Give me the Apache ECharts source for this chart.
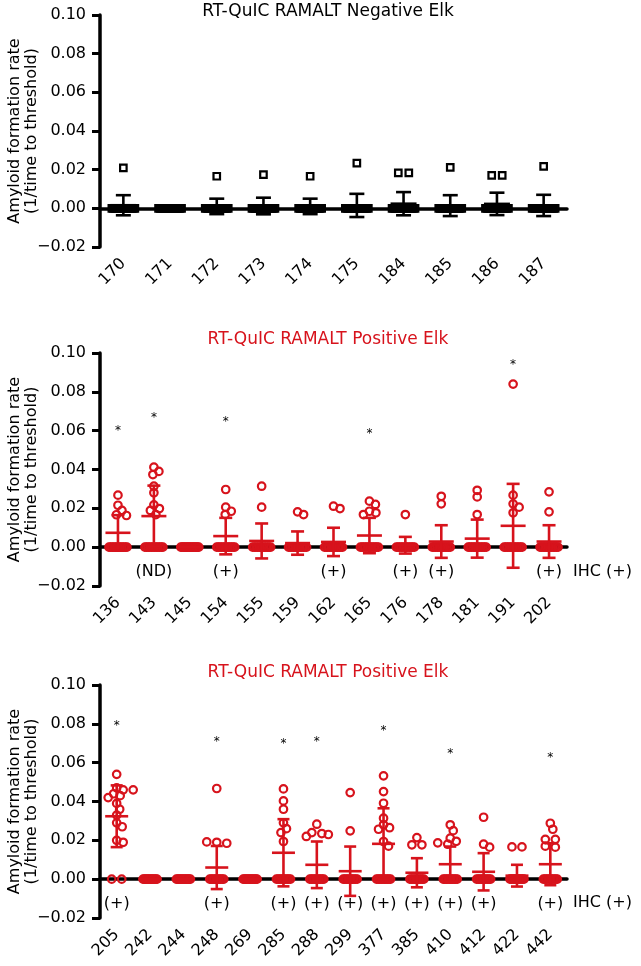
<!DOCTYPE html>
<html><head><meta charset="utf-8">
<script src="https://cdn.jsdelivr.net/npm/echarts@6/dist/echarts.min.js"></script>
<style>html,body{margin:0;padding:0;background:#fff}#c{width:641px;height:966px}</style>
</head><body><div id="c"></div>
<script>
// ---------- Panel A: RT-QuIC RAMALT Negative Elk ----------
const titleA = 'RT-QuIC RAMALT Negative Elk';
const catsA = ['170','171','172','173','174','175','184','185','186','187'];
const pointsA = [[0.0209],[],[0.0166],[0.0174],[0.0166],[0.0234],[0.0183,0.0183],[0.0212],[0.017,0.017],[0.0217]];
const zerosA = [16,16,16,16,16,16,16,16,16,16];
const meanA = [0.0016,0,0.001,0.0012,0.001,0.0015,0.0024,0.0014,0.0023,0.0015];
const sdA   = [0.0052,0,0.004,0.0043,0.004,0.006,0.006,0.0054,0.0058,0.0055];
const starsA = [null,null,null,null,null,null,null,null,null,null];
const ihcA = ['','','','','','','','','',''];

// ---------- Panel B: RT-QuIC RAMALT Positive Elk ----------
const titleB = 'RT-QuIC RAMALT Positive Elk';
const catsB = ['136','143','145','154','155','159','162','165','176','178','181','191','202'];
const pointsB = [
  [0.0268,0.0216,0.0189,0.0167,0.0163],
  [0.0412,0.039,0.0374,0.0314,0.028,0.0218,0.0199,0.0189,0.0168],
  [],
  [0.0297,0.0206,0.0185,0.0168],
  [0.0314,0.0206],
  [0.0182,0.0168],
  [0.0211,0.0199],
  [0.0237,0.022,0.0185,0.0177,0.0168],
  [0.0168],
  [0.0262,0.0223],
  [0.0293,0.0259,0.0168],
  [0.084,0.0268,0.0223,0.0206,0.0177],
  [0.0285,0.0182]
];
const zerosB = [12,12,16,12,12,12,12,12,12,12,12,12,12];
const meanB = [0.0074,0.016,0,0.0057,0.0032,0.0021,0.0027,0.006,0.001,0.0029,0.0044,0.011,0.0029];
const sdB   = [0.0091,0.0157,0,0.0094,0.009,0.006,0.0073,0.0091,0.0043,0.0084,0.0098,0.0216,0.0084];
const starsB = [0.061,0.068,null,0.066,null,null,null,0.0597,null,null,null,0.0954,null];
const ihcB = ['','(ND)','','(+)','','','(+)','','(+)','(+)','','','(+)'];

// ---------- Panel C: RT-QuIC RAMALT Positive Elk ----------
const titleC = 'RT-QuIC RAMALT Positive Elk';
const catsC = ['205','242','244','248','269','285','288','299','377','385','410','412','422','442'];
const pointsC = [
  [0.054,0.047,0.046,0.046,0.044,0.043,0.042,0.039,0.036,0.033,0.029,0.027,0.020,0.019],
  [],
  [],
  [0.0467,0.0192,0.019,0.0185],
  [],
  [0.0465,0.0403,0.036,0.029,0.026,0.024,0.0194],
  [0.0283,0.024,0.0235,0.023,0.022],
  [0.0446,0.0249],
  [0.0532,0.0451,0.0391,0.0314,0.028,0.0265,0.0257,0.0194,0.017],
  [0.0214,0.0177,0.0177],
  [0.028,0.025,0.0211,0.0195,0.0187,0.018],
  [0.0319,0.018,0.0165],
  [0.0166,0.0166],
  [0.0288,0.0257,0.0205,0.0205,0.017,0.0165]
];
const zerosC = [2,12,12,10,12,10,10,10,10,10,10,10,10,10];
const meanC = [0.0324,0,0,0.006,0,0.0136,0.0074,0.0041,0.0182,0.0033,0.0077,0.0038,0.0018,0.0077];
const sdC   = [0.0159,0,0,0.0111,0,0.0173,0.012,0.0127,0.0183,0.0075,0.0091,0.0096,0.0056,0.0108];
const starsC = [0.080,null,null,0.0722,null,0.0708,0.0722,null,0.0777,null,0.0657,null,null,0.064];
const ihcC = ['(+)','','','(+)','','(+)','(+)','(+)','(+)','(+)','(+)','(+)','','(+)'];

const yName = 'Amyloid formation rate\n(1/time to threshold)';
const ihcLegend = 'IHC (+)';
const Y_MIN = -0.02, Y_MAX = 0.10, Y_STEP = 0.02;

// ---------- styling ----------
const RED = '#d7131c', BLACK = '#000';
const FONT = '"DejaVu Sans", sans-serif';
const FS = 16;
const LABEL_VAL = -0.0125; // where the IHC marks sit

function makeRender(cfg) {
  return function (params, api) {
    const i = api.value(0);
    const base = api.coord([i, 0]);
    const cx = base[0], y0 = base[1];
    const col = cfg.color;
    const children = [];
    function marker(x, y) {
      if (cfg.square) {
        const s = cfg.size;
        return { type: 'rect', shape: { x: x - s / 2, y: y - s / 2, width: s, height: s },
          style: { fill: 'none', stroke: col, lineWidth: 2.2 } };
      }
      return { type: 'circle', shape: { cx: x, cy: y, r: cfg.size / 2 },
        style: { fill: 'none', stroke: col, lineWidth: 2.2 } };
    }
    // zero readings spread in a row
    const n0 = cfg.zeros[i];
    if (n0 > 0) {
      const step = n0 > 1 ? Math.min(cfg.maxStep, cfg.spread / (n0 - 1)) : 0;
      for (let k = 0; k < n0; k++) children.push(marker(cx + (k - (n0 - 1) / 2) * step, y0));
    }
    // non-zero readings, simple beeswarm
    const pts = cfg.points[i].slice().sort((a, b) => b - a);
    const placed = [];
    let g = 0;
    while (g < pts.length) {
      const yg = api.coord([i, pts[g]])[1];
      let h = g + 1;
      while (h < pts.length && Math.abs(api.coord([i, pts[h]])[1] - yg) < 1.5) h++;
      const k = h - g;
      const ys = pts.slice(g, h).map(v => api.coord([i, v])[1]);
      let best = null;
      for (let s = 0; s < 80 && !best; s += 0.5) {
        for (const sg of (s === 0 ? [1] : [1, -1])) {
          const c = sg * s;
          const xs = ys.map((_, j) => c + (j - (k - 1) / 2) * cfg.maxStep);
          const ok = xs.every((x, j) => placed.every(p => Math.hypot(p[0] - x, p[1] - ys[j]) >= cfg.minDist));
          if (ok) { best = xs; break; }
        }
      }
      if (!best) best = ys.map(() => 0);
      best.forEach((x, j) => { placed.push([x, ys[j]]); children.push(marker(cx + x, ys[j])); });
      g = h;
    }
    // mean and SD
    const m = cfg.mean[i], sd = cfg.sd[i];
    const ym = api.coord([i, m])[1];
    const lw = 2.6;
    children.push({ type: 'line', shape: { x1: cx - cfg.meanW / 2, y1: ym, x2: cx + cfg.meanW / 2, y2: ym },
      style: { stroke: col, lineWidth: lw } });
    if (sd > 0) {
      const yt = api.coord([i, m + sd])[1], yb = api.coord([i, m - sd])[1];
      children.push({ type: 'line', shape: { x1: cx, y1: yt, x2: cx, y2: yb }, style: { stroke: col, lineWidth: lw } });
      children.push({ type: 'line', shape: { x1: cx - cfg.capW / 2, y1: yt, x2: cx + cfg.capW / 2, y2: yt }, style: { stroke: col, lineWidth: lw } });
      children.push({ type: 'line', shape: { x1: cx - cfg.capW / 2, y1: yb, x2: cx + cfg.capW / 2, y2: yb }, style: { stroke: col, lineWidth: lw } });
    }
    // significance star
    const st = cfg.stars[i];
    if (st != null) {
      const p = api.coord([i, st]);
      children.push({ type: 'text', x: p[0], y: p[1] + 2.5,
        style: { text: '*', fill: BLACK, font: '12px ' + FONT, align: 'center', verticalAlign: 'middle' } });
    }
    // IHC mark
    const lab = cfg.ihc[i];
    if (lab) {
      const p = api.coord([i, LABEL_VAL]);
      children.push({ type: 'text', x: p[0], y: p[1],
        style: { text: lab, fill: BLACK, font: FS + 'px ' + FONT, align: 'center', verticalAlign: 'middle' } });
    }
    return { type: 'group', children: children };
  };
}

const panels = [
  { cats: catsA, points: pointsA, zeros: zerosA, mean: meanA, sd: sdA, stars: starsA, ihc: ihcA,
    color: BLACK, square: true, size: 6.5, spread: 23, maxStep: 10.5, minDist: 6.5, meanW: 26, capW: 15, top: 15, height: 232 },
  { cats: catsB, points: pointsB, zeros: zerosB, mean: meanB, sd: sdB, stars: starsB, ihc: ihcB,
    color: RED, square: false, size: 7.5, spread: 18, maxStep: 10, minDist: 6.5, meanW: 25, capW: 13, top: 353, height: 233 },
  { cats: catsC, points: pointsC, zeros: zerosC, mean: meanC, sd: sdC, stars: starsC, ihc: ihcC,
    color: RED, square: false, size: 7.5, spread: 14, maxStep: 10, minDist: 6.5, meanW: 23, capW: 12, top: 685, height: 233 }
];

const option = {
  animation: false,
  grid: panels.map(p => ({ left: 100, width: 467, top: p.top, height: p.height, containLabel: false, outerBoundsMode: 'none' })),
  xAxis: panels.map((p, k) => ({
    type: 'category', gridIndex: k, data: p.cats, boundaryGap: true,
    axisLine: { lineStyle: { color: BLACK, width: 3.5 } },
    axisTick: { alignWithLabel: true, length: 8, lineStyle: { color: BLACK, width: 3 } },
    axisLabel: { rotate: 45, interval: 0, margin: 14, fontSize: FS, color: BLACK, fontFamily: FONT },
    splitLine: { show: false }
  })),
  yAxis: panels.map((p, k) => ({
    type: 'value', gridIndex: k, min: Y_MIN, max: Y_MAX, interval: Y_STEP,
    axisLine: { show: true, lineStyle: { color: BLACK, width: 3.5 } },
    axisTick: { show: true, length: 8, lineStyle: { color: BLACK, width: 3 } },
    axisLabel: { margin: 14, fontSize: FS, color: BLACK, fontFamily: FONT,
      formatter: v => (v < -1e-9 ? '\u2212' : '') + Math.abs(v).toFixed(2) },
    splitLine: { show: false },
    name: yName, nameLocation: 'middle', nameGap: 60, nameMoveOverlap: false,
    nameTextStyle: { fontSize: FS, lineHeight: 17, color: BLACK, fontFamily: FONT }
  })),
  series: panels.map((p, k) => ({
    type: 'custom', xAxisIndex: k, yAxisIndex: k, clip: false,
    data: p.cats.map((c, i) => [i, 0]),
    encode: { x: 0, y: 1 },
    renderItem: makeRender(p)
  })),
  graphic: [
    { type: 'text', x: 328, y: 12, style: { text: titleA, fill: BLACK, font: '17px ' + FONT, align: 'center', verticalAlign: 'middle' } },
    { type: 'text', x: 328, y: 339.5, style: { text: titleB, fill: RED, font: '17px ' + FONT, align: 'center', verticalAlign: 'middle' } },
    { type: 'text', x: 328, y: 672.5, style: { text: titleC, fill: RED, font: '17px ' + FONT, align: 'center', verticalAlign: 'middle' } },
    { type: 'text', x: 573, y: 572, style: { text: ihcLegend, fill: BLACK, font: FS + 'px ' + FONT, align: 'left', verticalAlign: 'middle' } },
    { type: 'text', x: 573, y: 903, style: { text: ihcLegend, fill: BLACK, font: FS + 'px ' + FONT, align: 'left', verticalAlign: 'middle' } }
  ]
};
const chart = echarts.init(document.getElementById('c'), null, { renderer: 'canvas' });
chart.setOption(option);
</script>
</body></html>
